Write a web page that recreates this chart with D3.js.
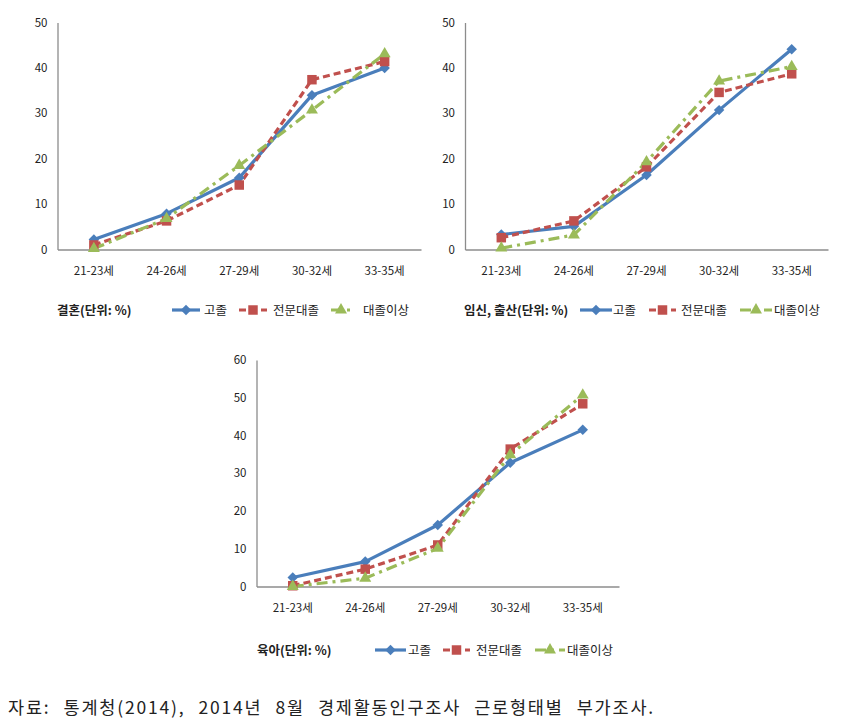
<!DOCTYPE html>
<html><head><meta charset="utf-8">
<script src="https://cdn.jsdelivr.net/npm/d3@7"></script>
<style>
body{margin:0;background:#fff;}
svg{display:block;font-family:"Noto Sans CJK KR","Noto Sans",sans-serif;}
</style></head>
<body><svg id="c" width="841" height="726"></svg>
<script>
const categories = ["21-23세","24-26세","27-29세","30-32세","33-35세"];
const seriesNames = ["고졸","전문대졸","대졸이상"];
const marriageHigh   = [2.2, 7.9, 15.8, 34.0, 40.0];
const marriageCollege= [1.0, 6.3, 14.2, 37.4, 41.4];
const marriageUniv   = [0.2, 6.8, 18.5, 30.7, 43.1];
const birthHigh      = [3.3, 5.1, 16.4, 30.7, 44.1];
const birthCollege   = [2.6, 6.3, 18.2, 34.6, 38.7];
const birthUniv      = [0.3, 3.2, 19.3, 37.1, 40.3];
const careHigh       = [2.4, 6.6, 16.3, 32.8, 41.5];
const careCollege    = [0.2, 4.6, 11.0, 36.4, 48.4];
const careUniv       = [0.0, 2.2, 10.1, 34.9, 50.7];
const ticks50 = [0,10,20,30,40,50];
const ticks60 = [0,10,20,30,40,50,60];
const titles = ["결혼(단위: %)","임신, 출산(단위: %)","육아(단위: %)"];
const sourceText = "자료: 통계청(2014), 2014년 8월 경제활동인구조사 근로형태별 부가조사.";

const colors = ["#4A7EBB","#C0504D","#9BBB59"];
const dashes = [null,"7,4","11,5,3,5"];
const svg = d3.select("#c");

function marker(g, type, color){
  let sym;
  if(type===0) sym = d3.symbol().type(d3.symbolDiamond2).size(70);
  else if(type===1) sym = d3.symbol().type(d3.symbolSquare).size(90);
  else sym = d3.symbol().type(d3.symbolTriangle).size(62);
  return g.append("path").attr("d", sym()).attr("fill", color);
}

function panel(cfg){
  const g = svg.append("g");
  const x = d3.scaleBand().domain(categories).range([cfg.x0, cfg.x1]);
  const y = d3.scaleLinear().domain([0, cfg.max]).range([cfg.yb, cfg.yt]);
  const ya = g.append("g").attr("transform",`translate(${cfg.x0},0)`)
    .call(d3.axisLeft(y).tickValues(cfg.ticks).tickSize(0).tickPadding(10));
  ya.select(".domain").attr("stroke","#8c8c8c").attr("stroke-width",1.3);
  ya.selectAll("text").attr("font-size",11.5).attr("fill","#222").attr("font-family","'Noto Sans CJK KR'");
  const xa = g.append("g").attr("transform",`translate(0,${cfg.yb})`)
    .call(d3.axisBottom(x).tickSize(0).tickPadding(17));
  xa.select(".domain").attr("stroke","#8c8c8c").attr("stroke-width",1.3);
  xa.selectAll("text").attr("font-size",11.5).attr("fill","#222").attr("font-family","'Noto Sans CJK KR'");
  const line = d3.line().x((d,i)=>x(categories[i])+x.bandwidth()/2).y(d=>y(d));
  cfg.series.forEach((s,k)=>{
    g.append("path").datum(s).attr("d", line).attr("fill","none")
      .attr("stroke", colors[k]).attr("stroke-width", 3.2)
      .attr("stroke-dasharray", dashes[k]).attr("stroke-linejoin","round");
  });
  cfg.series.forEach((s,k)=>{
    s.forEach((v,i)=>{
      marker(g,k,colors[k]).attr("transform",`translate(${x(categories[i])+x.bandwidth()/2},${y(v)})`);
    });
  });
  g.append("text").attr("x",cfg.titleX).attr("y",cfg.legY+5).text(cfg.title)
    .attr("font-size",12.5).attr("font-weight","bold").attr("fill","#222");
  cfg.leg.forEach((l,k)=>{
    g.append("line").attr("x1",l[0]).attr("x2",l[1]).attr("y1",cfg.legY).attr("y2",cfg.legY)
      .attr("stroke",colors[k]).attr("stroke-width",3.2).attr("stroke-dasharray",dashes[k]);
    marker(g,k,colors[k]).attr("transform",`translate(${(l[0]+l[1])/2},${cfg.legY})`);
    g.append("text").attr("x",l[2]).attr("y",cfg.legY+5).text(seriesNames[k])
      .attr("font-size",12.5).attr("fill","#222");
  });
}

panel({x0:57.5,x1:421,yb:249.5,yt:22.5,max:50,ticks:ticks50,
  series:[marriageHigh,marriageCollege,marriageUniv],title:titles[0],
  titleX:57,legY:310,leg:[[172,200,204],[239,267,273],[331,351,363]]});
panel({x0:465,x1:828,yb:249.5,yt:22.5,max:50,ticks:ticks50,
  series:[birthHigh,birthCollege,birthUniv],title:titles[1],
  titleX:464,legY:310,leg:[[580,612,613],[649,676,681],[740,772,774]]});
panel({x0:256.5,x1:619,yb:586.5,yt:360,max:60,ticks:ticks60,
  series:[careHigh,careCollege,careUniv],title:titles[2],
  titleX:257,legY:650,leg:[[375,406,408],[443,470,476],[535,565,567]]});

const src = svg.append("text").attr("x",8).attr("y",714).text(sourceText)
  .attr("font-size",17.5).attr("letter-spacing",1.8).attr("fill","#222")
  .attr("font-family","'Noto Sans CJK KR'");
const natural = src.node().getComputedTextLength();
const nSpaces = sourceText.split(" ").length - 1;
src.attr("word-spacing", Math.max(0, (647 - natural) / nSpaces));
</script></body></html>
